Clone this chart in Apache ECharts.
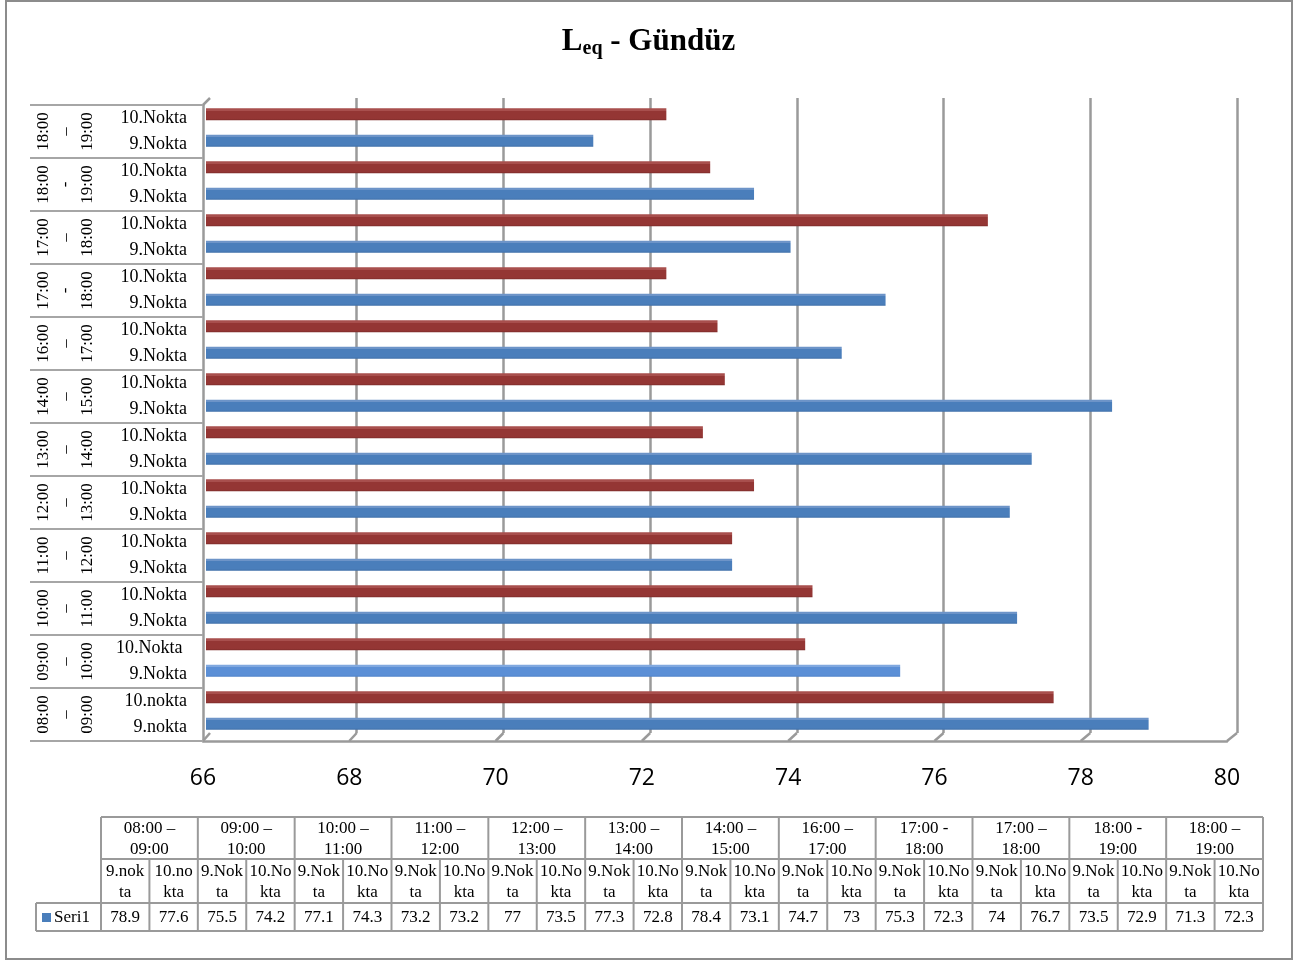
<!DOCTYPE html>
<html><head><meta charset="utf-8">
<script src="https://cdn.jsdelivr.net/npm/echarts@6/dist/echarts.min.js"></script>
<style>html,body{margin:0;padding:0;background:#fff}#c{width:1297px;height:960px}</style>
</head><body><div id="c"></div>
<script>
// ---- data (bottom-to-top order of the chart = left-to-right order of the table) ----
const groupStart = ['08:00','09:00','10:00','11:00','12:00','13:00','14:00','16:00','17:00','17:00','18:00','18:00'];
const groupDash  = ['–','–','–','–','–','–','–','–','-','–','-','–'];
const groupEnd   = ['09:00','10:00','11:00','12:00','13:00','14:00','15:00','17:00','18:00','18:00','19:00','19:00'];
const pointLabels = ['9.nokta','10.nokta','9.Nokta','10.Nokta ','9.Nokta','10.Nokta','9.Nokta','10.Nokta',
  '9.Nokta','10.Nokta','9.Nokta','10.Nokta','9.Nokta','10.Nokta','9.Nokta','10.Nokta',
  '9.Nokta','10.Nokta','9.Nokta','10.Nokta','9.Nokta','10.Nokta','9.Nokta','10.Nokta'];
const tableSubLabels = ['9.nok\nta','10.no\nkta','9.Nok\nta','10.No\nkta','9.Nok\nta','10.No\nkta','9.Nok\nta','10.No\nkta',
  '9.Nok\nta','10.No\nkta','9.Nok\nta','10.No\nkta','9.Nok\nta','10.No\nkta','9.Nok\nta','10.No\nkta',
  '9.Nok\nta','10.No\nkta','9.Nok\nta','10.No\nkta','9.Nok\nta','10.No\nkta','9.Nok\nta','10.No\nkta'];
const values = [78.9,77.6,75.5,74.2,77.1,74.3,73.2,73.2,77,73.5,77.3,72.8,78.4,73.1,74.7,73,75.3,72.3,74,76.7,73.5,72.9,71.3,72.3];
const seriesName = 'Seri1';
const xMin = 66, xMax = 80, xStep = 2;

// ---- styling ----
const SERIF = '"Liberation Serif", "Times New Roman", serif';
const SANS = '"Open Sans", "Noto Sans", sans-serif';
const GRID_COL = '#9a9a9a';
const BLUE = '#4a7ebb', BLUE_LIGHT = '#5b8fd6', RED = '#943634';

function barColor(i) {
  let base = (i % 2 === 0) ? BLUE : RED;
  if (i === 2) base = BLUE_LIGHT;
  const top = (i % 2 === 0) ? (i === 2 ? '#80a8df' : '#6d94c8') : '#a84f4d';
  const bottom = (i % 2 === 0) ? (i === 2 ? '#4f82c8' : '#3f6fa8') : '#7e2c2a';
  return new echarts.graphic.LinearGradient(0, 0, 0, 1, [
    {offset: 0, color: top}, {offset: 0.2, color: top},
    {offset: 0.21, color: base}, {offset: 0.85, color: base}, {offset: 1, color: bottom}
  ]);
}

const chart = echarts.init(document.getElementById('c'), null, {renderer: 'canvas'});

const groupAxisLabels = groupStart.map((s, i) => s + '\n' + groupDash[i] + '\n' + groupEnd[i]);
const catIdx = values.map((v, i) => i);

const option = {
  animation: false,
  backgroundColor: '#fff',
  title: {
    text: '{a|L}{b|eq}{a| - Gündüz}',
    left: 'center', top: 17,
    textStyle: {
      rich: {
        a: {fontFamily: SERIF, fontSize: 31, fontWeight: 'bold', color: '#000', lineHeight: 40},
        b: {fontFamily: SERIF, fontSize: 20, fontWeight: 'bold', color: '#000', lineHeight: 40, padding: [14, 0, 0, 0]}
      }
    }
  },
  grid: [
    {left: 210, right: 60, top: 98, bottom: 227, outerBoundsMode: 'none'},   // back wall (gridlines)
    {left: 203, right: 70, top: 105, bottom: 219, outerBoundsMode: 'none'},  // front (axes, labels)
    {left: 206, right: 68, top: 101, bottom: 223, outerBoundsMode: 'none'}   // bars
  ],
  xAxis: [
    {gridIndex: 0, type: 'value', min: xMin, max: xMax, interval: xStep,
     axisLine: {show: false}, axisTick: {show: false}, axisLabel: {show: false},
     splitLine: {show: true, showMinLine: false, lineStyle: {color: GRID_COL, width: 2.5}}},
    {gridIndex: 1, type: 'value', min: xMin, max: xMax, interval: xStep, position: 'bottom',
     axisLine: {show: true, lineStyle: {color: GRID_COL, width: 2.5}}, axisTick: {show: false},
     splitLine: {show: false},
     axisLabel: {fontFamily: SANS, fontSize: 23, color: '#000', margin: 26}},
    {gridIndex: 2, type: 'value', min: xMin, max: xMax, interval: xStep, show: false, startValue: xMin}
  ],
  yAxis: [
    {gridIndex: 0, type: 'category', data: catIdx, show: false},
    {gridIndex: 1, type: 'category', data: pointLabels, position: 'left', offset: 0,
     axisLine: {show: true, lineStyle: {color: GRID_COL, width: 2.5}}, axisTick: {show: false},
     axisLabel: {interval: 0, fontFamily: SERIF, fontSize: 18, color: '#000', margin: 16, padding: [9, 0, 0, 0]}},
    {gridIndex: 1, type: 'category', data: groupAxisLabels, position: 'left', offset: 0,
     axisLine: {show: false},
     axisTick: {show: true, length: 173, lineStyle: {color: '#a6a6a6', width: 2}},
     axisLabel: {interval: 0, rotate: 90, fontFamily: SERIF, fontSize: 17, lineHeight: 22, color: '#000', margin: 104}},
    {gridIndex: 2, type: 'category', data: catIdx, show: false}
  ],
  series: [{
    name: seriesName, type: 'bar', xAxisIndex: 2, yAxisIndex: 3,
    barWidth: 12,
    data: values.map((v, i) => ({value: v, itemStyle: {color: barColor(i)}})),
    itemStyle: {borderWidth: 0}
  }],
  graphic: []
};
chart.setOption(option);

// ---- 3D floor edges, frame and data table ----
const g = [];
const line = (x1, y1, x2, y2, color, w) => g.push({type: 'line', silent: true,
  shape: {x1, y1, x2, y2}, style: {stroke: color || GRID_COL, lineWidth: w || 2.5}});

// outer frame
g.push({type: 'rect', silent: true, shape: {x: 6, y: 1, width: 1286, height: 958},
  style: {fill: 'none', stroke: '#8c8c8c', lineWidth: 2}});

// floor slants from back wall to front edge
for (let v = xMin; v <= xMax; v += xStep) {
  const xb = chart.convertToPixel({xAxisIndex: 0}, v);
  const xf = chart.convertToPixel({xAxisIndex: 1}, v);
  line(xb, 733, xf, 741);
}
line(203, 105, 210, 98);

// data table
const tLeft = 101, tRight = 1263, legLeft = 36;
const rows = [817, 859, 903, 931];
const cw = (tRight - tLeft) / values.length;
const TCOL = '#9a9a9a';
line(tLeft, rows[0], tRight, rows[0], TCOL, 2);
line(tLeft, rows[1], tRight, rows[1], TCOL, 2);
line(legLeft, rows[2], tRight, rows[2], TCOL, 2);
line(legLeft, rows[3], tRight, rows[3], TCOL, 2);
line(legLeft, rows[2], legLeft, rows[3], TCOL, 2);
for (let i = 0; i <= values.length; i++) {
  const x = tLeft + i * cw;
  line(x, i % 2 === 0 ? rows[0] : rows[1], x, rows[3], TCOL, 2);
}
const tStyle = (text, x, y) => ({type: 'text', silent: true, x, y,
  style: {text, fontFamily: SERIF, fontSize: 17, fill: '#000', align: 'center', verticalAlign: 'middle', lineHeight: 21}});
groupStart.forEach((s, i) => {
  g.push(tStyle(s + ' ' + groupDash[i] + '\n' + groupEnd[i], tLeft + (2 * i + 1) * cw, (rows[0] + rows[1]) / 2 + 1));
});
tableSubLabels.forEach((s, i) => {
  g.push(tStyle(s, tLeft + (i + 0.5) * cw, (rows[1] + rows[2]) / 2 + 1));
});
values.forEach((v, i) => {
  g.push(tStyle(String(v), tLeft + (i + 0.5) * cw, (rows[2] + rows[3]) / 2 + 1));
});
g.push({type: 'rect', silent: true, shape: {x: 42, y: 913, width: 9, height: 9}, style: {fill: BLUE}});
g.push({type: 'text', silent: true, x: 54, y: 918,
  style: {text: seriesName, fontFamily: SERIF, fontSize: 17, fill: '#000', align: 'left', verticalAlign: 'middle'}});

chart.setOption({graphic: g});
</script></body></html>
